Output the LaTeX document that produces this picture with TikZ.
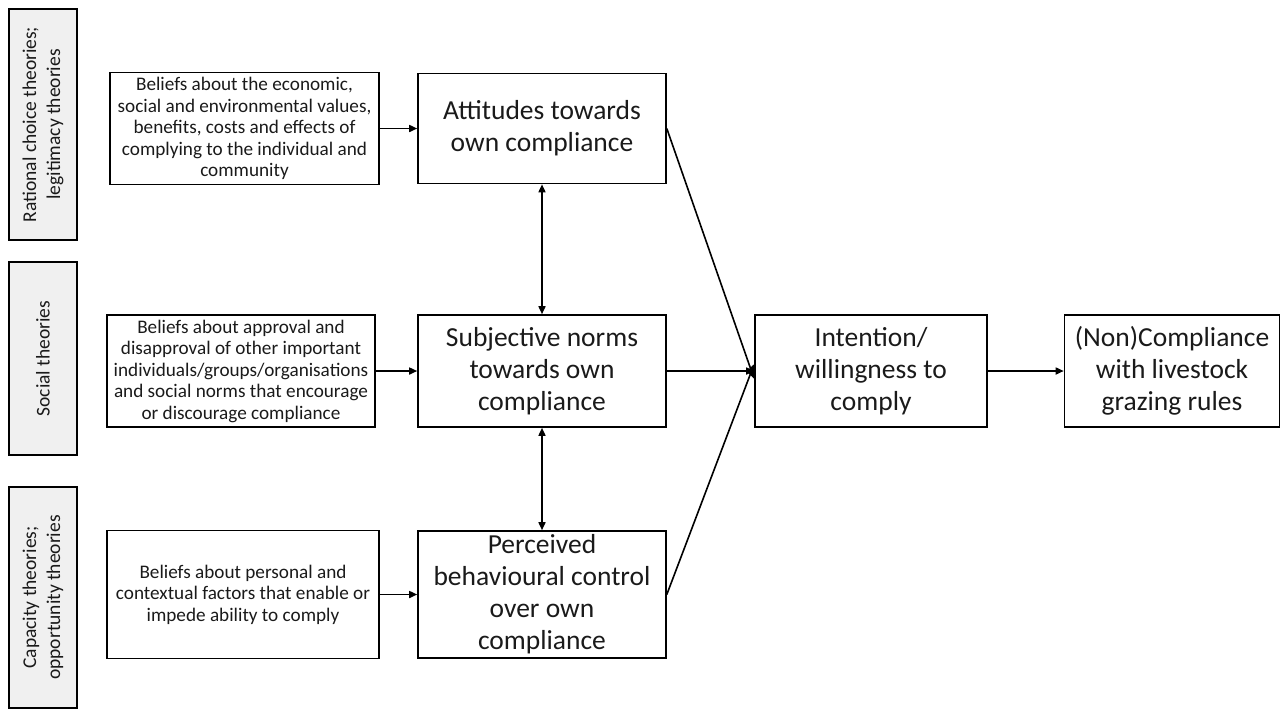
\documentclass[tikz,border=0pt]{standalone}
\usepackage{fontspec}
\setmainfont{Carlito}
\usetikzlibrary{arrows.meta}
\definecolor{sidegray}{HTML}{F0F0F0}
\definecolor{txt}{HTML}{1A1A1A}
\tikzset{
  box/.style={draw=black, line width=1.6pt, inner sep=2pt, align=center, text=txt},
  sidebox/.style={box, fill=sidegray, rotate=90, font=\fontsize{19.5}{24}\selectfont},
  smallbox/.style={box, font=\fontsize{19.2}{21.5}\selectfont},
  bigbox/.style={box, font=\fontsize{27.5}{32}\selectfont},
  arr/.style={line width=1.6pt, -{Triangle[length=8pt,width=7pt]}},
  darr/.style={line width=1.6pt, {Triangle[length=8pt,width=7pt]}-{Triangle[length=8pt,width=7pt]}}
}
\begin{document}
\begin{tikzpicture}[x=1pt,y=-1pt]
\useasboundingbox (0,0) rectangle (1285,716);
% side boxes
\node[sidebox, minimum width=231pt, minimum height=68pt] (L1) at (43,124.5) {Rational choice theories;\\legitimacy theories};
\node[sidebox, minimum width=193pt, minimum height=68pt] (L2) at (43,358.5) {Social theories};
\node[sidebox, minimum width=221pt, minimum height=68pt] (L3) at (43,597.5) {Capacity theories;\\opportunity theories};
% belief boxes
\node[smallbox, minimum width=269pt, minimum height=112pt] (S1) at (244.5,128.5) {Beliefs about the economic,\\social and environmental values,\\benefits, costs and effects of\\complying to the individual and\\community};
\node[smallbox, minimum width=268pt, minimum height=112pt] (S2) at (241,371) {Beliefs about approval and\\disapproval of other important\\individuals/groups/organisations\\and social norms that encourage\\or discourage compliance};
\node[smallbox, minimum width=272pt, minimum height=128pt] (S3) at (243,594.5) {Beliefs about personal and\\contextual factors that enable or\\impede ability to comply};
% middle boxes
\node[bigbox, minimum width=248pt, minimum height=110pt] (A) at (542,128.5) {Attitudes towards\\own compliance};
\node[bigbox, minimum width=248pt, minimum height=112pt] (B) at (542,371) {Subjective norms\\towards own\\compliance};
\node[bigbox, minimum width=248pt, minimum height=127pt] (C) at (542,594.5) {Perceived\\behavioural control\\over own\\compliance};
% right boxes
\node[bigbox, minimum width=232pt, minimum height=112pt] (I) at (871,371) {Intention/\\willingness to\\comply};
\node[bigbox, minimum width=215pt, minimum height=112pt] (N) at (1172,371) {(Non)Compliance\\with livestock\\grazing rules};
% connectors
\draw[arr] (S1.east) -- (S1.east -| A.west);
\draw[arr] (S2.east) -- (S2.east -| B.west);
\draw[arr] (S3.east) -- (S3.east -| C.west);
\draw[darr] (A.south) -- (B.north);
\draw[darr] (B.south) -- (C.north);
\draw[arr] (A.east) -- ([yshift=-8pt]I.west);
\draw[arr] (B.east) -- (I.west);
\draw[arr] (C.east) -- ([yshift=7pt]I.west);
\draw[arr] (I.east) -- (N.west);
\end{tikzpicture}
\end{document}
